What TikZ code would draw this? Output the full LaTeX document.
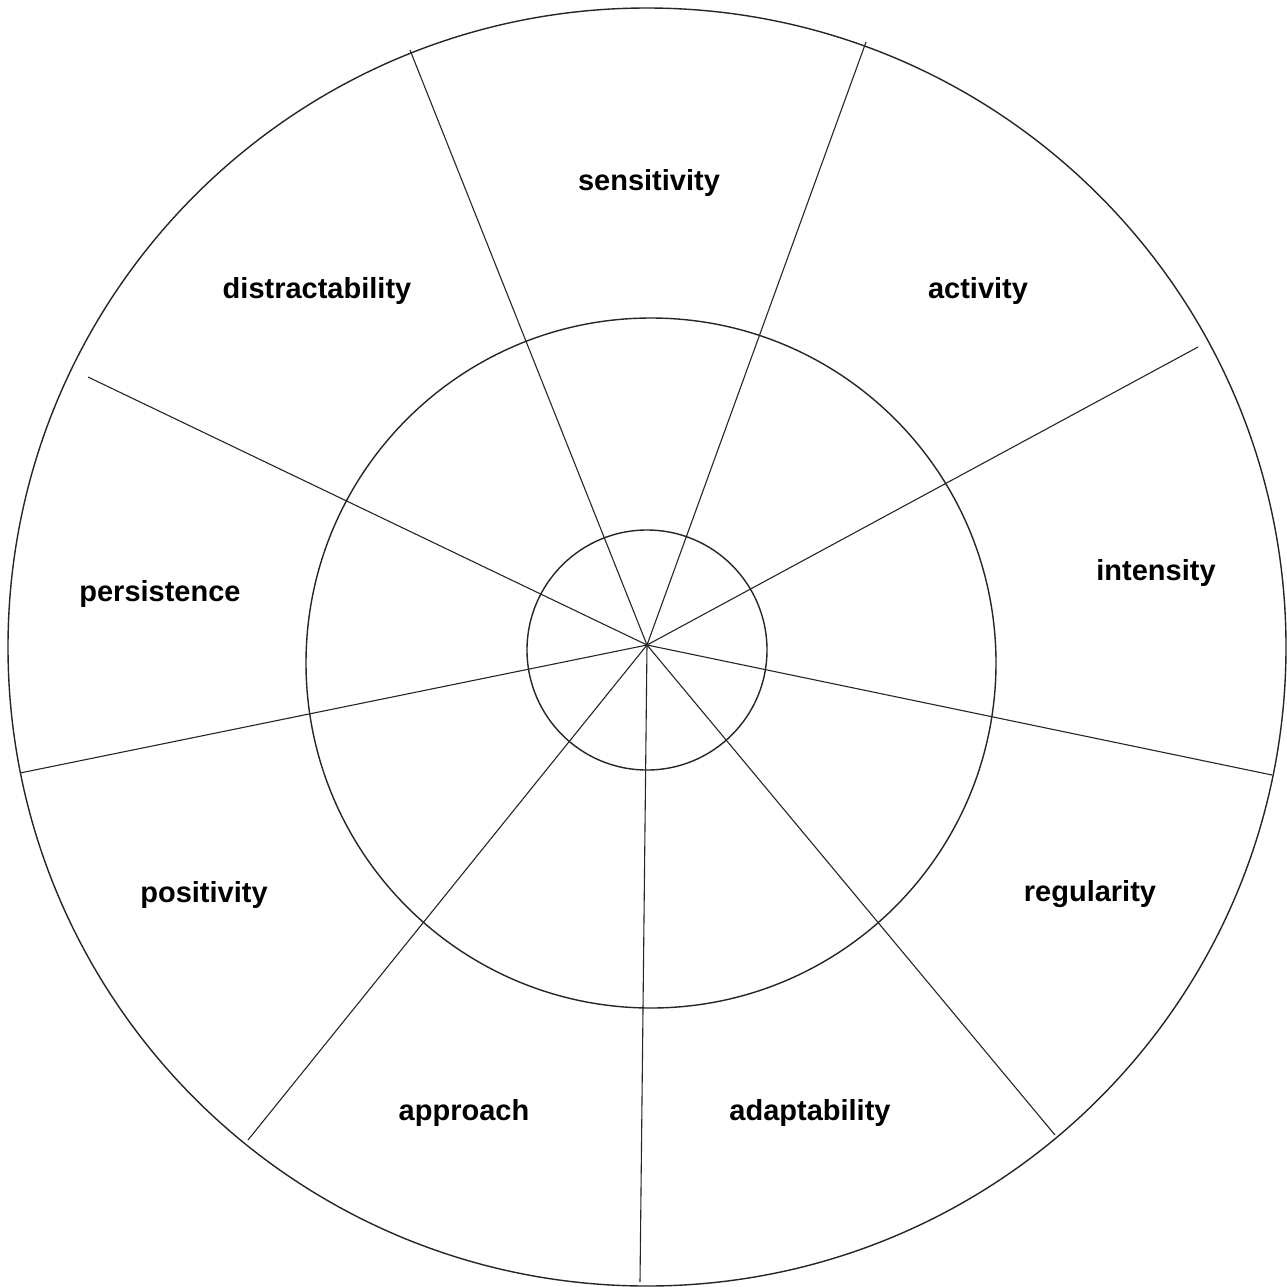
\documentclass[tikz,border=0pt]{standalone}
\usepackage{fontspec}
\setmainfont{Liberation Sans}
\begin{document}
\begin{tikzpicture}[x=1pt,y=-1pt,
  ring/.style={draw=black!85,line width=1.4pt},
  spoke/.style={draw=black!85,line width=1.1pt},
  lbl/.style={font=\fontsize{29}{32}\selectfont\bfseries,inner sep=0pt}]
\useasboundingbox[fill=white] (0,0) rectangle (1287,1286);
\coordinate (c) at (647,645);
\draw[ring] (647,647) circle[radius=639];
\draw[ring] (651,663) circle[radius=345];
\draw[ring] (647,650) circle[radius=120];
\coordinate (e1) at (410,50);
\coordinate (e2) at (866,42);
\coordinate (e3) at (1198,347);
\coordinate (e4) at (1272,775);
\coordinate (e5) at (1055,1135);
\coordinate (e6) at (640,1282);
\coordinate (e7) at (248,1140);
\coordinate (e8) at (20,773);
\coordinate (e9) at (88,377);
\foreach \i in {1,...,9} \draw[spoke] (c) -- (e\i);
\node[lbl] (sens) at (649,182.5) {sensitivity};
\node[lbl] (act) at (978,290.5) {activity};
\node[lbl] (int) at (1156,572.5) {intensity};
\node[lbl] (reg) at (1090,894.5) {regularity};
\node[lbl] (adap) at (810,1112.5) {adaptability};
\node[lbl] (appr) at (464,1112.5) {approach};
\node[lbl] (pos) at (204,894.5) {positivity};
\node[lbl] (pers) at (160,593.5) {persistence};
\node[lbl] (dist) at (317,290.5) {distractability};
\end{tikzpicture}
\end{document}
